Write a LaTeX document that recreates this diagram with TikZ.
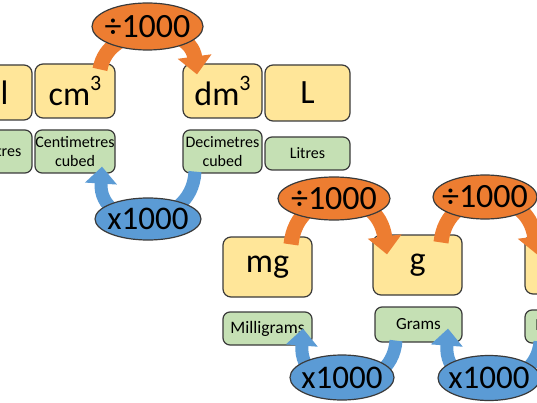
\documentclass[tikz,border=0pt]{standalone}
\usepackage{fontspec}
\setmainfont{Carlito}
\usetikzlibrary{arrows.meta,shapes.geometric}
\definecolor{ycol}{HTML}{FFE699}
\definecolor{gcol}{HTML}{C5E0B4}
\definecolor{ocol}{HTML}{ED7D31}
\definecolor{bcol}{HTML}{5B9BD5}
\definecolor{linec}{HTML}{3A3A3A}
\newcommand\myexp[1]{\raisebox{0.42em}{\fontsize{22}{22}\selectfont #1}}
\begin{document}
\begin{tikzpicture}[x=1pt,y=-1pt,
  unitbox/.style={draw=linec, line width=1.2pt, rounded corners=8pt, fill=ycol, inner sep=0pt, font=\fontsize{34}{40}\selectfont},
  namebox/.style={draw=linec, line width=1.2pt, rounded corners=7pt, fill=gcol, inner sep=0pt, align=center, font=\fontsize{16}{19.5}\selectfont},
  divell/.style={ellipse, draw=linec, line width=1.2pt, fill=ocol, inner sep=0pt, font=\fontsize{34}{40}\selectfont},
  mulell/.style={ellipse, draw=linec, line width=1.2pt, fill=bcol, inner sep=0pt, font=\fontsize{33}{40}\selectfont},
  divarrow/.style={draw=ocol, line width=15pt, -{Triangle[width=33pt,length=18pt]}},
  mularrow/.style={draw=bcol, line width=13pt, -{Triangle[width=31pt,length=17pt]}}]
\useasboundingbox (0,0) rectangle (537,403);
\clip (0,0) rectangle (537,403);
% unit boxes
\node[unitbox, minimum width=82, minimum height=55] (ml) at (-9,92.5) {ml};
\node[unitbox, minimum width=80, minimum height=54] (cm3) at (75,91) {cm\myexp{3}};
\node[unitbox, minimum width=79, minimum height=54] (dm3) at (222.5,91) {dm\myexp{3}};
\node[unitbox, minimum width=85, minimum height=56] (L) at (307.5,93) {L};
\node[unitbox, minimum width=89, minimum height=60] (mg) at (267.5,267) {mg};
\node[unitbox, minimum width=89, minimum height=60] (g) at (417.5,265) {g};
\node[unitbox, minimum width=89, minimum height=59] (kg) at (569.5,264.5) {kg};
% name boxes
\node[namebox, minimum width=82, minimum height=43] (mlname) at (-9,151.5) {Millilitres};
\node[namebox, minimum width=80, minimum height=43] (cmname) at (75,151.5) {Centimetres\\cubed};
\node[namebox, minimum width=79, minimum height=43] (dmname) at (222.5,151.5) {Decimetres\\cubed};
\node[namebox, minimum width=85, minimum height=33] (Lname) at (307.5,153.5) {Litres};
\node[namebox, minimum width=89, minimum height=33, font=\fontsize{17.5}{20}\selectfont] (mgname) at (267.5,328.5) {Milligrams};
\node[namebox, minimum width=87, minimum height=35, font=\fontsize{17}{20}\selectfont] (gname) at (418.5,324.5) {Grams};
\node[namebox, minimum width=89, minimum height=33, font=\fontsize{17}{20}\selectfont] (kgname) at (569.5,326.5) {Kilograms};
% divide arrows
\draw[divarrow] ([xshift=25pt,yshift=-6pt]cm3.north) .. controls (108,22) and (190,22) .. ([xshift=-25.5pt,yshift=-11pt]dm3.north);
\draw[divarrow] ([xshift=23.5pt,yshift=-8pt]mg.north) .. controls (297,185) and (378,185) .. ([xshift=-30.5pt,yshift=-20pt]g.north);
\draw[divarrow] ([xshift=23.5pt,yshift=-8pt]g.north) .. controls (447,185) and (528,185) .. ([xshift=-32.5pt,yshift=-20pt]kg.north);
% multiply arrows
\draw[mularrow] ([xshift=-27.5pt,yshift=2pt]dmname.south) .. controls (192,232) and (98,232) .. ([xshift=27pt,yshift=7pt]cmname.south);
\draw[mularrow] ([xshift=-22.5pt,yshift=2pt]gname.south) .. controls (392,398) and (298,398) .. ([xshift=35.5pt,yshift=17pt]mgname.south);
\draw[mularrow] ([xshift=-29.5pt,yshift=2pt]kgname.south) .. controls (536,395) and (443,398) .. ([xshift=29.5pt,yshift=14pt]gname.south);
% ellipses
\node[divell, minimum width=111, minimum height=47] (dtop) at (147.5,26.5) {\makebox[0pt]{÷1000}};
\node[divell, minimum width=112, minimum height=43] (dmid) at (334,198.5) {\makebox[0pt]{÷1000}};
\node[divell, minimum width=104, minimum height=44] (dright) at (485,197) {\makebox[0pt]{÷1000}};
\node[mulell, minimum width=106, minimum height=42] (mtop) at (148,219) {\makebox[0pt]{x1000}};
\node[mulell, minimum width=104, minimum height=45] (mmid) at (342,377.5) {\makebox[0pt]{x1000}};
\node[mulell, minimum width=102, minimum height=45] (mright) at (489,378) {\makebox[0pt]{x1000}};
\end{tikzpicture}
\end{document}
